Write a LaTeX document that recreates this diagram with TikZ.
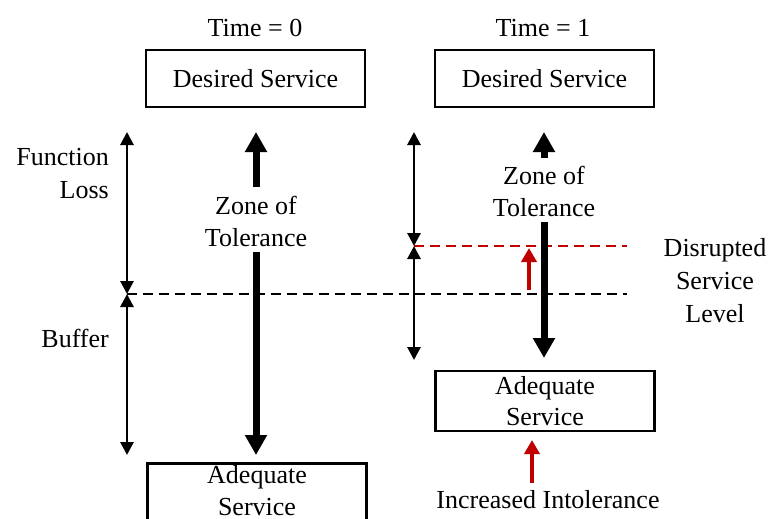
\documentclass[tikz,border=0pt]{standalone}
\usepackage{fontspec}
\setmainfont{Liberation Serif}
\usetikzlibrary{arrows.meta}
\definecolor{dred}{RGB}{192,0,0}
\begin{document}
\begin{tikzpicture}[x=1pt,y=-1pt,
  txt/.style={font=\fontsize{26}{32}\selectfont, inner sep=0pt, align=center},
  box/.style={draw, line width=2.5pt, minimum width=219pt, minimum height=57pt, inner sep=0pt, font=\fontsize{26}{31}\selectfont, align=center},
  thinarr/.style={line width=2.8pt, {Triangle[width=13pt,length=13pt]}-{Triangle[width=13pt,length=13pt]}},
  thickarr/.style={line width=7pt, -{Triangle[width=21pt,length=20pt]}},
  redarr/.style={dred, line width=4.5pt, -{Triangle[width=15pt,length=14pt]}},
  dash line/.style={line width=2.6pt, dash pattern=on 10pt off 6pt}
]
\useasboundingbox (0,0) rectangle (771,519);
\clip (0,0) rectangle (771,519);

% titles
\node[txt] (t0) at (255,28) {Time = 0};
\node[txt] (t1) at (543,28) {Time = 1};

% boxes
\node[box] (ds0) at (255.5,78.5) {Desired Service};
\node[box] (ds1) at (544.5,78.5) {Desired Service};
\node[box, minimum height=100pt, anchor=north] (as0) at (257,462) {};
\node[txt] (as0t) at (257,491) {Adequate\\Service};
\node[box, minimum height=60pt] (as1) at (545,401) {Adequate\\Service};

% left labels
\node[txt, align=right, anchor=east, font=\fontsize{26}{33}\selectfont] (fl) at (109,174) {Function\\Loss};
\node[txt, anchor=east] (buf) at (109,338) {Buffer};
\node[txt, font=\fontsize{26}{33}\selectfont] (dsl) at (715,281) {Disrupted\\Service\\Level};
\node[txt] (ii) at (548,500) {Increased Intolerance};

% zone labels
\node[txt] (z0) at (256,221) {Zone of\\Tolerance};
\node[txt] (z1) at (544,191) {Zone of\\Tolerance};

% coordinates
\coordinate (la) at (127,132);
\coordinate (lb) at (127,294);
\coordinate (lc) at (127,455);
\coordinate (ra) at (414,132);
\coordinate (rb) at (414,246);
\coordinate (rc) at (414,360);
\coordinate (de) at (627,294);
\coordinate (re) at (627,246);

% dashed levels
\draw[dash line] (lb) -- (de);
\draw[dash line, dred] (rb) -- (re);

% thin double arrows
\draw[thinarr] (la) -- (lb);
\draw[thinarr] (lb) -- (lc);
\draw[thinarr] (ra) -- (rb);
\draw[thinarr] (rb) -- (rc);

% thick arrows left
\coordinate (l1s) at (256,187);
\coordinate (l1e) at (256,132);
\coordinate (l2s) at (256,252);
\coordinate (l2e) at (256,455);
\draw[thickarr] (l1s) -- (l1e);
\draw[thickarr] (l2s) -- (l2e);

% thick arrows right
\coordinate (r1s) at (544,158);
\coordinate (r1e) at (544,132);
\coordinate (r2s) at (544,222);
\coordinate (r2e) at (544,358);
\draw[thickarr] (r1s) -- (r1e);
\draw[thickarr] (r2s) -- (r2e);

% red arrows
\coordinate (ra1s) at (529,290);
\coordinate (ra1e) at (529,248);
\draw[redarr] (ra1s) -- (ra1e);
\coordinate (ra2s) at (532,483);
\coordinate (ra2e) at (532,440);
\draw[redarr] (ra2s) -- (ra2e);
\end{tikzpicture}
\end{document}
